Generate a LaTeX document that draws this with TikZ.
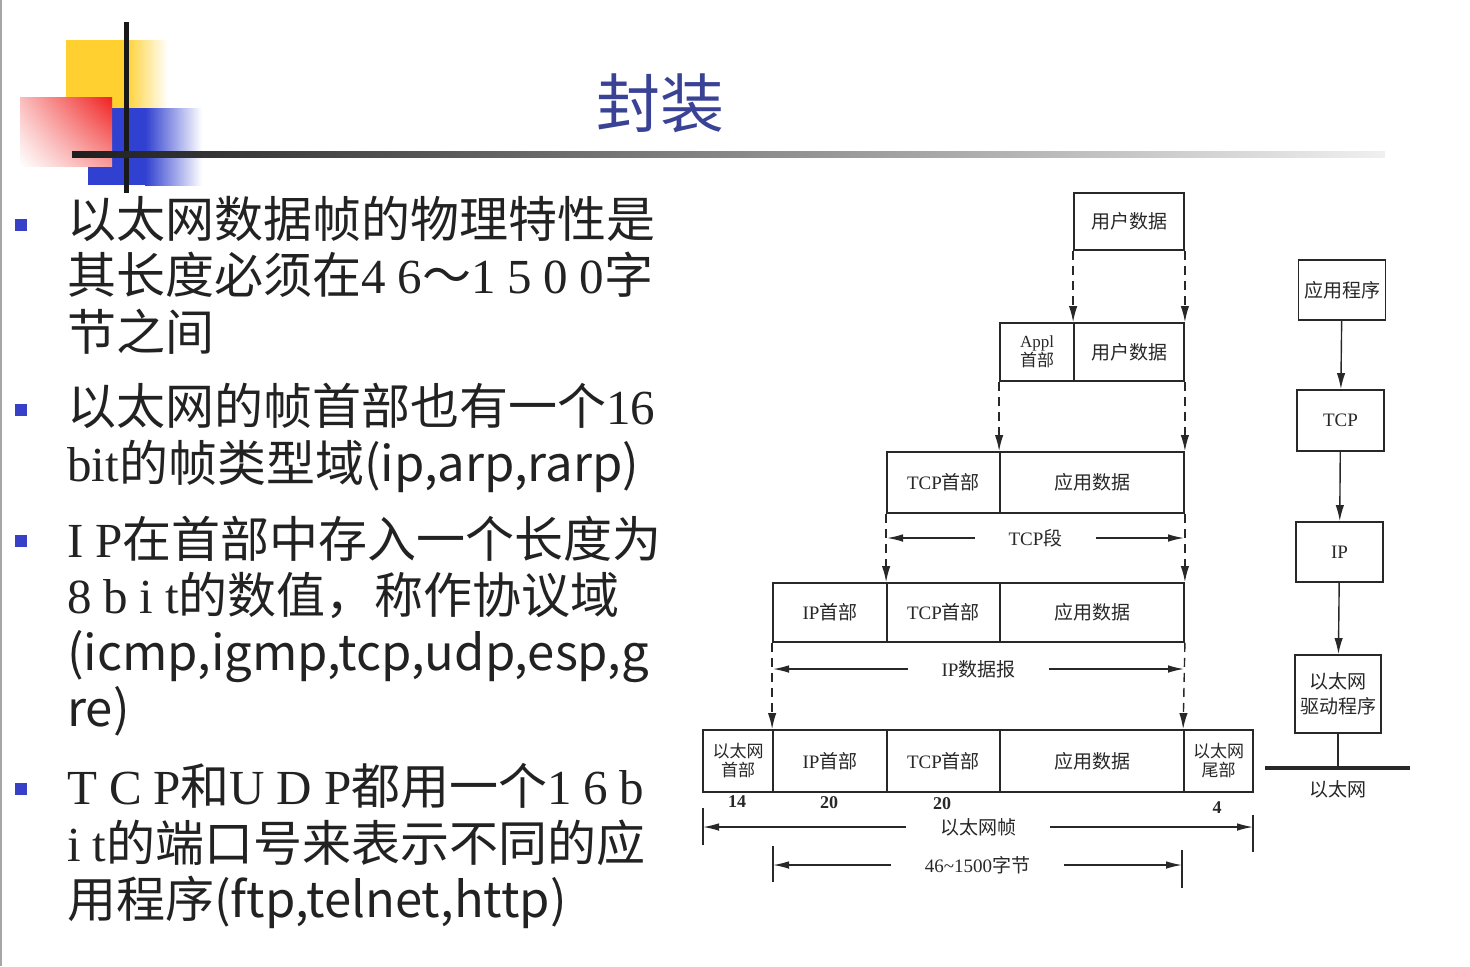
\documentclass[tikz,border=0pt]{standalone}
\usepackage{fontspec}
\setmainfont{Liberation Serif}
\newfontfamily\cjk{Noto Sans CJK SC}
\usetikzlibrary{arrows.meta,shadings}

\definecolor{titleblue}{RGB}{58,66,150}
\definecolor{bulletblue}{RGB}{56,64,200}
\definecolor{txt}{RGB}{34,34,34}
\definecolor{ink}{RGB}{40,40,40}
\definecolor{decoyellow}{RGB}{255,208,48}
\definecolor{decoblue}{RGB}{48,64,208}
\definecolor{decored}{RGB}{240,32,32}

\newcommand{\dg}{\hspace{0.24em}}

\tikzset{
  cell/.style={draw=ink, line width=0.9pt, inner sep=0pt, align=center,
    font=\cjk\fontsize{9.5}{10.5}\selectfont, text=ink},
  twoline/.style={cell, font=\cjk\fontsize{8.5}{9.5}\selectfont},
  flow/.style={-{Latex[length=8pt,width=4.2pt]}, line width=0.7pt, draw=ink},
  dflow/.style={flow, dash pattern=on 4.5pt off 3pt},
  dim/.style={{Latex[length=8pt,width=3.8pt]}-{Latex[length=8pt,width=3.8pt]},
    line width=0.7pt, draw=ink},
  dimlabel/.style={fill=white, inner xsep=17pt, inner ysep=1pt,
    font=\cjk\fontsize{9.5}{10.5}\selectfont, text=ink},
  tick/.style={line width=0.8pt, draw=ink},
  num/.style={font=\bfseries\fontsize{9}{9}\selectfont, text=ink, inner sep=0pt},
  textline/.style={text=txt, anchor=base west, inner sep=0pt,
    font=\cjk\fontsize{24.5}{28}\selectfont},
  bulletbox/.style={fill=bulletblue, minimum size=6pt, inner sep=0pt},
}

\begin{document}
\begin{tikzpicture}[x=0.5pt,y=-0.5pt]
\useasboundingbox (0,0) rectangle (1470,966);
\fill[white] (0,0) rectangle (1470,966);

% slide frame edge
\fill[black!35] (0,0) rectangle (2,966);

% corner ornament
\fill[decoyellow] (66,40) rectangle (125,125);
\shade[left color=decoyellow, right color=white] (125,40) rectangle (168,125);
\fill[decoblue] (88,108) rectangle (145,185);
\shade[left color=decoblue, right color=white] (145,108) rectangle (202,185);
\shade[upper left=decored!30, upper right=decored, lower left=white, lower right=decored!45]
  (20,97) rectangle (112,166);
\draw[line width=2.5pt, black!90] (126,22) -- (126,193);
\shade[left color=black!88, right color=black!6] (72,151) rectangle (1385,157);

% title
\node[text=titleblue, font=\cjk\fontsize{32}{36}\selectfont] (title) at (660,103) {封装};

% bullet list
\node[bulletbox] (b1) at (21,225) {};
\node[bulletbox] (b2) at (21,410) {};
\node[bulletbox] (b3) at (21,541) {};
\node[bulletbox] (b4) at (21,789) {};

\node[textline] (l1) at (67,237) {以太网数据帧的物理特性是};
\node[textline] (l2) at (67,293) {其长度必须在{\rmfamily 4\dg 6}～{\rmfamily 1\dg 5\dg 0\dg 0}字};
\node[textline] (l3) at (67,350) {节之间};
\node[textline] (l4) at (67,424) {以太网的帧首部也有一个{\rmfamily 16}};
\node[textline] (l5) at (67,481) {{\rmfamily bit}的帧类型域(ip,arp,rarp)};
\node[textline] (l6) at (67,557) {{\rmfamily I\dg P}在首部中存入一个长度为};
\node[textline] (l7) at (67,613) {{\rmfamily 8\dg b\dg i\dg t}的数值，称作协议域};
\node[textline] (l8) at (67,670) {(icmp,igmp,tcp,udp,esp,g};
\node[textline] (l9) at (67,726) {re)};
\node[textline] (l10) at (67,804) {{\rmfamily T\dg C\dg P}和{\rmfamily U\dg D\dg P}都用一个{\rmfamily 1\dg 6\dg b}};
\node[textline] (l11) at (67,861) {{\rmfamily i\dg t}的端口号来表示不同的应};
\node[textline] (l12) at (67,917) {用程序(ftp,telnet,http)};

% encapsulation stack: user data
\node[cell, minimum width=55pt, minimum height=28.5pt] (r1) at (1129,221.5) {用户数据};

% application header + user data
\node[twoline, minimum width=37pt, minimum height=29pt] (r2a) at (1037,352)
  {{\rmfamily Appl}\\首部};
\node[cell, minimum width=55pt, minimum height=29pt] (r2b) at (1129,352) {用户数据};

% TCP segment
\node[cell, minimum width=56.5pt, minimum height=30.5pt] (r3a) at (943.5,482.5) {{\rmfamily TCP}首部};
\node[cell, minimum width=92pt, minimum height=30.5pt] (r3b) at (1092,482.5) {应用数据};

% IP datagram
\node[cell, minimum width=57pt, minimum height=29.5pt] (r4a) at (830,612.5) {{\rmfamily IP}首部};
\node[cell, minimum width=56.5pt, minimum height=29.5pt] (r4b) at (943.5,612.5) {{\rmfamily TCP}首部};
\node[cell, minimum width=92pt, minimum height=29.5pt] (r4c) at (1092,612.5) {应用数据};

% Ethernet frame
\node[twoline, minimum width=35pt, minimum height=31pt] (r5a) at (738,761) {以太网\\首部};
\node[cell, minimum width=57pt, minimum height=31pt] (r5b) at (830,761) {{\rmfamily IP}首部};
\node[cell, minimum width=56.5pt, minimum height=31pt] (r5c) at (943.5,761) {{\rmfamily TCP}首部};
\node[cell, minimum width=92pt, minimum height=31pt] (r5d) at (1092,761) {应用数据};
\node[twoline, minimum width=34.5pt, minimum height=31pt] (r5e) at (1218.5,761) {以太网\\尾部};

% field sizes
\node[num] (n14) at (737,802) {14};
\node[num] (n20a) at (829,803) {20};
\node[num] (n20b) at (942,804) {20};
\node[num] (n4) at (1217,808) {4};

% encapsulation arrows
\draw[dflow] (r1.south west) -- (r2b.north west);
\draw[dflow] (r1.south east) -- (r2b.north east);
\draw[dflow] (r2a.south west) -- (r3b.north west);
\draw[dflow] (r2b.south east) -- (r3b.north east);
\draw[dflow] (r3a.south west) -- (r4b.north west);
\draw[dflow] (r3b.south east) -- (r4c.north east);
\draw[dflow] (r4a.south west) -- (r5b.north west);
\draw[dflow] (r4c.south east) -- (r5e.north west);

% span dimensions
\coordinate (tcpL) at (887,538);
\coordinate (tcpR) at (1184,538);
\draw[dim] (tcpL) -- (tcpR) node[dimlabel, midway] (tcpseg) {{\rmfamily TCP}段};

\coordinate (ipL) at (773,669);
\coordinate (ipR) at (1184,669);
\draw[dim] (ipL) -- (ipR) node[dimlabel, midway] (ipdg) {{\rmfamily IP}数据报};

\coordinate (frT1) at (703,808);
\coordinate (frB1) at (703,845);
\coordinate (frT2) at (1253,815);
\coordinate (frB2) at (1253,852);
\coordinate (frL) at (703,827);
\coordinate (frR) at (1253,827);
\draw[tick] (frT1) -- (frB1);
\draw[tick] (frT2) -- (frB2);
\draw[dim] (frL) -- (frR) node[dimlabel, midway] (frame) {以太网帧};

\coordinate (plT1) at (773,846);
\coordinate (plB1) at (773,882);
\coordinate (plT2) at (1182,850);
\coordinate (plB2) at (1182,888);
\coordinate (plL) at (773,865);
\coordinate (plR) at (1182,865);
\draw[tick] (plT1) -- (plB1);
\draw[tick] (plT2) -- (plB2);
\draw[dim] (plL) -- (plR) node[dimlabel, midway] (payload) {{\rmfamily 46\textasciitilde1500}字节};

% protocol stack
\node[cell, minimum width=43.5pt, minimum height=30pt] (app) at (1342,290) {应用程序};
\node[cell, minimum width=43.5pt, minimum height=30.5pt] (tcp) at (1340.5,420.5) {\rmfamily TCP};
\node[cell, minimum width=43.5pt, minimum height=30pt] (ip) at (1339.5,552) {\rmfamily IP};
\node[cell, minimum width=43pt, minimum height=39pt] (drv) at (1338,694) {以太网\\[2pt]驱动程序};

\draw[flow] (app) -- (tcp);
\draw[flow] (tcp) -- (ip);
\draw[flow] (ip) -- (drv);

\coordinate (ethL) at (1265,768);
\coordinate (ethR) at (1410,768);
\draw[line width=2pt, ink] (ethL) -- (ethR);
\draw[line width=0.8pt, ink] (drv.south) -- (drv.south |- ethL);
\node[font=\cjk\fontsize{9.5}{10.5}\selectfont, text=ink] (ethlab) at (1338,789) {以太网};

\end{tikzpicture}
\end{document}
